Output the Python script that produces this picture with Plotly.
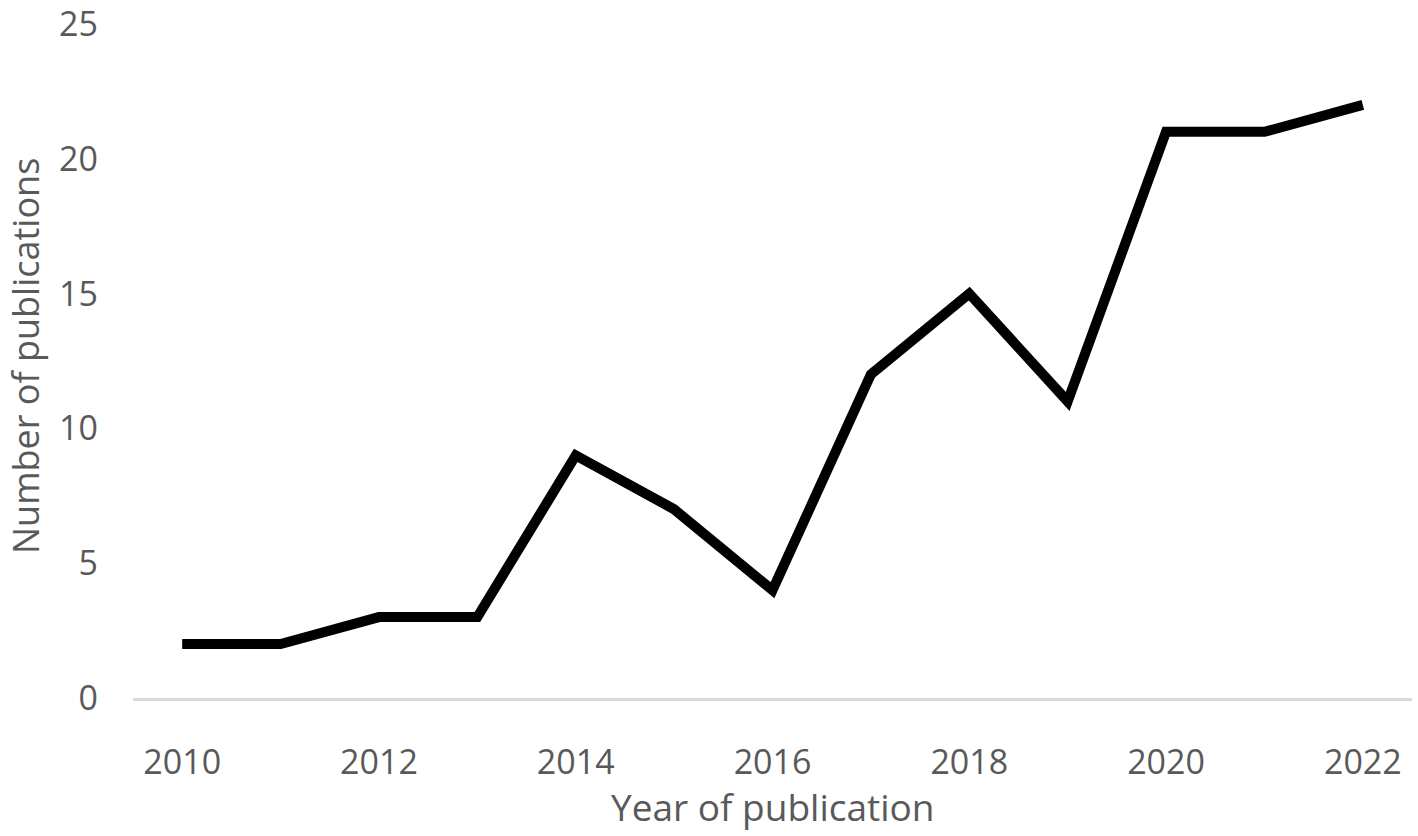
import plotly.graph_objects as go

years = [2010, 2011, 2012, 2013, 2014, 2015, 2016, 2017, 2018, 2019, 2020, 2021, 2022]
publications = [2, 2, 3, 3, 9, 7, 4, 12, 15, 11, 21, 21, 22]
y_ticks = [0, 5, 10, 15, 20, 25]
x_ticks = [2010, 2012, 2014, 2016, 2018, 2020, 2022]

FONT = "Open Sans"
GREY = "#595959"
L, R, T, B = 133, 6, 24, 138
PW, PH = 1418 - L - R, 836 - T - B

fig = go.Figure()
fig.add_trace(go.Scatter(
    x=years, y=publications, mode="lines",
    line=dict(color="black", width=10),
    hoverinfo="skip", showlegend=False,
))

fig.update_layout(
    width=1418, height=836,
    margin=dict(l=L, r=R, t=T, b=B),
    paper_bgcolor="white", plot_bgcolor="white",
    font=dict(family=FONT, color=GREY, size=34),
    showlegend=False,
)
fig.update_xaxes(
    range=[2009.5, 2022.5], tickvals=x_ticks, ticktext=[str(v) for v in x_ticks],
    showgrid=False, zeroline=False, showline=True, linecolor="#d9d9d9", linewidth=3,
    ticks="", ticklabelstandoff=32, automargin=False, ticklabeloverflow="allow",
    tickfont=dict(family=FONT, size=34, color=GREY),
)
fig.update_yaxes(
    range=[0, 25], tickvals=y_ticks, ticktext=[str(v) for v in y_ticks],
    showgrid=False, zeroline=False, showline=False, ticks="",
    ticklabelstandoff=34, automargin=False, ticklabeloverflow="allow",
    tickfont=dict(family=FONT, size=34, color=GREY),
)
fig.add_annotation(
    text="Year of publication",
    xref="paper", yref="paper", x=0.5, y=-(806 - (T + PH)) / PH,
    xanchor="center", yanchor="middle", showarrow=False,
    font=dict(family=FONT, size=37, color=GREY),
)
fig.add_annotation(
    text="Number of publications", textangle=-90,
    xref="paper", yref="paper", x=(25 - L) / PW, y=(T + PH - 356) / PH,
    xanchor="center", yanchor="middle", showarrow=False,
    font=dict(family=FONT, size=36, color=GREY),
)

fig.write_html(
    "out.html",
    config={"displayModeBar": False},
    post_script="document.body.style.margin='0';document.body.style.overflow='hidden';",
)
